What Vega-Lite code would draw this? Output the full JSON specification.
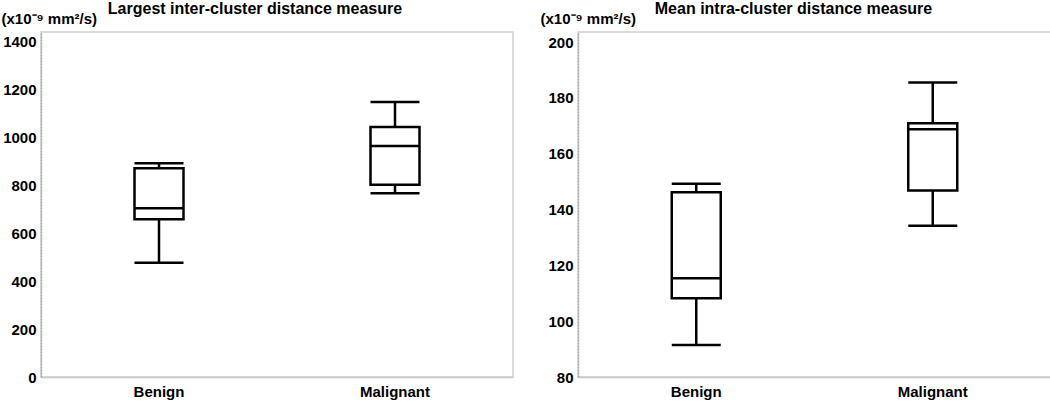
{
  "$schema": "https://vega.github.io/schema/vega-lite/v6.json",
  "padding": 0,
  "background": "white",
  "spacing": 25,
  "datasets": {
    "inter": [
      {"group": "Benign", "min": 477, "q1": 658, "median": 704, "q3": 871, "max": 892},
      {"group": "Malignant", "min": 767, "q1": 802, "median": 964, "q3": 1044, "max": 1148}
    ],
    "intra": [
      {"group": "Benign", "min": 91.5, "q1": 108.2, "median": 115.4, "q3": 146.2, "max": 149.2},
      {"group": "Malignant", "min": 134.2, "q1": 146.8, "median": 168.8, "q3": 170.9, "max": 185.5}
    ]
  },
  "config": {
    "font": "Liberation Sans",
    "view": {"stroke": "#d0d0d0", "strokeWidth": 1.5},
    "axisX": {"domainColor": "#c8c8c8", "domainWidth": 1.5, "ticks": false, "labelAngle": 0, "labelFontSize": 15, "labelFontWeight": "bold", "labelColor": "black", "labelPadding": 7, "title": null, "grid": false},
    "axisY": {"domainColor": "#a8a8a8", "domainDash": [2, 1], "domainWidth": 1.5, "ticks": false, "labelFontSize": 15, "labelFontWeight": "bold", "labelColor": "black", "labelPadding": 5, "grid": false, "format": "d",
      "titleAngle": 0, "titleFontSize": 15, "titleFontWeight": "bold", "titleColor": "black", "titleAlign": "left", "titleBaseline": "alphabetic", "titleY": -9},
    "title": {"fontSize": 16, "fontWeight": "bold", "color": "black", "anchor": "middle", "offset": -6},
    "tick": {"opacity": 1}
  },
  "hconcat": [
    {
      "width": 472,
      "height": 345,
      "title": {"text": "Largest inter-cluster distance measure", "dx": -22},
      "data": {"name": "inter"},
      "encoding": {
        "x": {"field": "group", "type": "nominal", "scale": {"paddingInner": 0, "paddingOuter": 0}, "axis": {"title": null}}
      },
      "layer": [
        {"mark": {"type": "rule", "color": "black", "strokeWidth": 2.5},
         "encoding": {"y": {"field": "min", "type": "quantitative", "scale": {"domain": [0, 1440], "nice": false}, "axis": {"values": [0, 200, 400, 600, 800, 1000, 1200, 1400], "title": "(x10⁻⁹ mm²/s)", "titleX": -40}}, "y2": {"field": "q1"}}},
        {"mark": {"type": "rule", "color": "black", "strokeWidth": 2.5},
         "encoding": {"y": {"field": "q3", "type": "quantitative"}, "y2": {"field": "max"}}},
        {"mark": {"type": "bar", "fill": "white", "stroke": "black", "strokeWidth": 2.5, "size": 49},
         "encoding": {"y": {"field": "q1", "type": "quantitative"}, "y2": {"field": "q3"}}},
        {"mark": {"type": "tick", "color": "black", "thickness": 2.5, "size": 49, "opacity": 1},
         "encoding": {"y": {"field": "median", "type": "quantitative"}}},
        {"mark": {"type": "tick", "color": "black", "thickness": 2.5, "size": 49, "opacity": 1},
         "encoding": {"y": {"field": "min", "type": "quantitative"}}},
        {"mark": {"type": "tick", "color": "black", "thickness": 2.5, "size": 49, "opacity": 1},
         "encoding": {"y": {"field": "max", "type": "quantitative"}}}
      ]
    },
    {
      "width": 473,
      "height": 345,
      "title": {"text": "Mean intra-cluster distance measure", "dx": -21},
      "data": {"name": "intra"},
      "encoding": {
        "x": {"field": "group", "type": "nominal", "scale": {"paddingInner": 0, "paddingOuter": 0}, "axis": {"title": null}}
      },
      "layer": [
        {"mark": {"type": "rule", "color": "black", "strokeWidth": 2.5},
         "encoding": {"y": {"field": "min", "type": "quantitative", "scale": {"domain": [80, 203.6], "nice": false, "zero": false}, "axis": {"values": [80, 100, 120, 140, 160, 180, 200], "title": "(x10⁻⁹ mm²/s)", "titleX": -38}}, "y2": {"field": "q1"}}},
        {"mark": {"type": "rule", "color": "black", "strokeWidth": 2.5},
         "encoding": {"y": {"field": "q3", "type": "quantitative"}, "y2": {"field": "max"}}},
        {"mark": {"type": "bar", "fill": "white", "stroke": "black", "strokeWidth": 2.5, "size": 49},
         "encoding": {"y": {"field": "q1", "type": "quantitative"}, "y2": {"field": "q3"}}},
        {"mark": {"type": "tick", "color": "black", "thickness": 2.5, "size": 49, "opacity": 1},
         "encoding": {"y": {"field": "median", "type": "quantitative"}}},
        {"mark": {"type": "tick", "color": "black", "thickness": 2.5, "size": 49, "opacity": 1},
         "encoding": {"y": {"field": "min", "type": "quantitative"}}},
        {"mark": {"type": "tick", "color": "black", "thickness": 2.5, "size": 49, "opacity": 1},
         "encoding": {"y": {"field": "max", "type": "quantitative"}}}
      ]
    }
  ]
}
